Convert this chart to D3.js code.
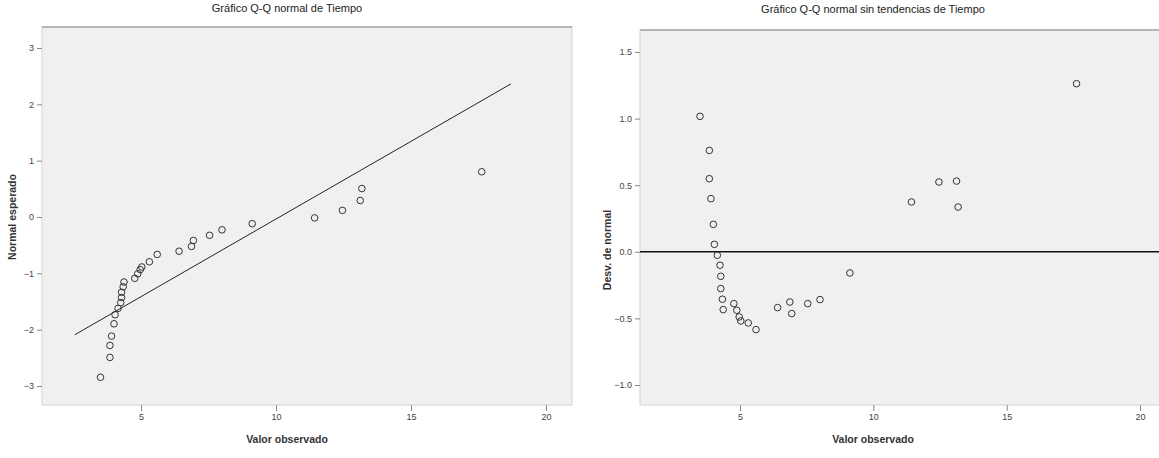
<!DOCTYPE html>
<html>
<head>
<meta charset="utf-8">
<script src="https://cdn.jsdelivr.net/npm/d3@7"></script>
<style>
body {margin:0; background:#fff;}
svg {display:block; font-family:"Liberation Sans", Arial, sans-serif;}
.tick text {fill:#444; font-size:9px;}
.tick line {stroke:#888;}
.domain {display:none;}
</style>
</head>
<body>
<svg id="chart" width="1159" height="458"></svg>
<script>
// observed values of Tiempo (x), sorted
var observed = [3.50, 3.85, 3.85, 3.91, 4.00, 4.04, 4.15, 4.25, 4.28, 4.28,
	4.34, 4.37, 4.77, 4.88, 4.97, 5.03, 5.31, 5.60, 6.41, 6.87,
	6.94, 7.54, 8.00, 9.12, 11.43, 12.46, 13.12, 13.18, 17.62];
// expected normal score for each observation
var expectedNormal = [-2.845, -2.492, -2.280, -2.114, -1.896, -1.735, -1.623, -1.520, -1.429, -1.337,
	-1.240, -1.154, -1.089, -1.008, -0.934, -0.887, -0.795, -0.665, -0.607, -0.522,
	-0.416, -0.325, -0.228, -0.119, -0.016, 0.118, 0.293, 0.505, 0.803];
// detrended deviation from normal
var deviation = [1.017, 0.761, 0.549, 0.399, 0.206, 0.056, -0.026, -0.101, -0.184, -0.276,
	-0.356, -0.434, -0.389, -0.439, -0.489, -0.519, -0.534, -0.584, -0.419, -0.377,
	-0.464, -0.389, -0.359, -0.159, 0.374, 0.524, 0.531, 0.336, 1.262];

// reference line of the Q-Q plot: z = (x - mean) / sd
var refMean = 10.13, refSd = 3.627;
var refLineX = [2.55, 18.7];

var xTicks = [5, 10, 15, 20];
var qqTicks = [3, 2, 1, 0, -1, -2, -3];
var detTicks = [1.5, 1.0, 0.5, 0.0, -0.5, -1.0];

var svg = d3.select("#chart");

function DrawPanel(P) {
	var g = svg.append("g");
	// plot background
	g.append("rect").attr("x",P.box[0]).attr("y",P.box[1])
		.attr("width",P.box[2]-P.box[0]).attr("height",P.box[3]-P.box[1])
		.attr("fill","#f0f0f0").attr("stroke","#d4d4d4");
	g.append("line").attr("x1",P.box[0]).attr("x2",P.box[2]).attr("y1",P.box[1]).attr("y2",P.box[1])
		.attr("stroke","#888").attr("stroke-width",1.2);

	g.append("g").attr("transform","translate(" + P.box[0] + ",0)")
		.call(d3.axisLeft(P.y).tickValues(P.yTicks).tickSize(5).tickFormat(P.yFormat));
	g.append("g").attr("transform","translate(0," + P.box[3] + ")")
		.call(d3.axisBottom(P.x).tickValues(xTicks).tickSize(6).tickFormat(d3.format("d")));

	g.append("text").attr("x",P.titleX).attr("y",P.titleY).attr("text-anchor","middle")
		.attr("font-size","11px").attr("fill","#222").text(P.title);
	g.append("text").attr("x",P.titleX).attr("y",443).attr("text-anchor","middle")
		.attr("font-size","10.5px").attr("font-weight","bold").attr("fill","#333").text("Valor observado");
	g.append("text").attr("transform","translate(" + P.yLabelX + "," + P.yLabelY + ") rotate(-90)")
		.attr("text-anchor","middle").attr("font-size","10.5px").attr("font-weight","bold")
		.attr("fill","#333").text(P.yLabel);
	return g;
}

// left panel: normal Q-Q plot
var qqX = d3.scaleLinear().domain([5,20]).range([141,546]);
var qqY = d3.scaleLinear().domain([-3,3]).range([386,48]);
var gl = DrawPanel({box:[42,27,572,405], x:qqX, y:qqY, yTicks:qqTicks, yFormat:d3.format("d"),
	title:"Gráfico Q-Q normal de Tiempo", titleX:287, titleY:12,
	yLabel:"Normal esperado", yLabelX:16, yLabelY:217});

gl.append("line")
	.attr("x1",qqX(refLineX[0])).attr("y1",qqY((refLineX[0]-refMean)/refSd))
	.attr("x2",qqX(refLineX[1])).attr("y2",qqY((refLineX[1]-refMean)/refSd))
	.attr("stroke","#222").attr("stroke-width",1);

gl.selectAll("circle").data(observed).enter().append("circle")
	.attr("cx",function(d) {return qqX(d);})
	.attr("cy",function(d,i) {return qqY(expectedNormal[i]);})
	.attr("r",3.3).attr("fill","none").attr("stroke","#333").attr("stroke-width",1);

// right panel: detrended normal Q-Q plot
var detX = d3.scaleLinear().domain([5,20]).range([740,1140]);
var detY = d3.scaleLinear().domain([-1,1.5]).range([385,52]);
var gr = DrawPanel({box:[640,30,1162,405], x:detX, y:detY, yTicks:detTicks, yFormat:d3.format(".1f"),
	title:"Gráfico Q-Q normal sin tendencias de Tiempo", titleX:873, titleY:13,
	yLabel:"Desv. de normal", yLabelX:611, yLabelY:250});

gr.append("line").attr("x1",640).attr("x2",1159)
	.attr("y1",detY(0)).attr("y2",detY(0))
	.attr("stroke","#111").attr("stroke-width",1.6);

gr.selectAll("circle").data(observed).enter().append("circle")
	.attr("cx",function(d) {return detX(d);})
	.attr("cy",function(d,i) {return detY(deviation[i]);})
	.attr("r",3.3).attr("fill","none").attr("stroke","#333").attr("stroke-width",1);
</script>
</body>
</html>
